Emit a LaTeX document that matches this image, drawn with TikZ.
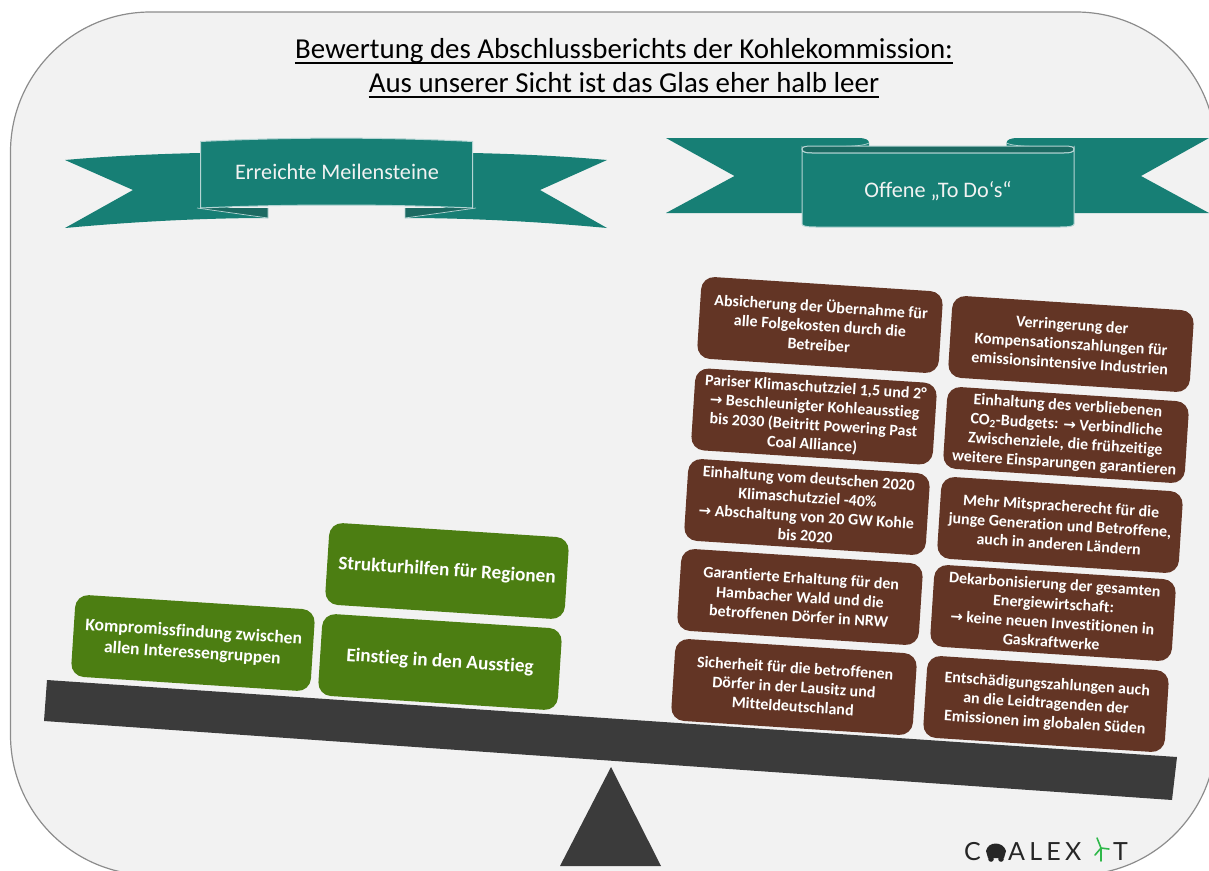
\documentclass[tikz,border=0pt]{standalone}
\usepackage{fontspec}
\setmainfont[Ligatures=NoCommon]{Carlito}
\newfontfamily\logofont[LetterSpace=17]{Lato}
\newfontfamily\arrowfont{DejaVu Sans}
\definecolor{bggray}{HTML}{F2F2F2}
\definecolor{edgegray}{HTML}{8C8C8C}
\definecolor{teal}{HTML}{177F75}
\definecolor{tealdark}{HTML}{1C6A62}
\definecolor{tealline}{HTML}{B5D5D4}
\definecolor{brownbox}{HTML}{633525}
\definecolor{greenbox}{HTML}{4C7E12}
\definecolor{beamgray}{HTML}{3B3B3B}
\definecolor{turbine}{HTML}{2FB84A}
\newcommand{\arr}{{\arrowfont\fontsize{15}{15}\selectfont →}}
\tikzset{
  x=1pt,y=-1pt,
  panel/.style={fill=bggray,draw=edgegray,line width=1.2pt},
  ribbon/.style={fill=teal},
  front/.style={fill=teal,draw=tealline,line width=1pt},
  bantext/.style={text=bggray,font=\fontsize{22.2}{22.2}\selectfont,inner sep=0pt},
  todo/.style={fill=brownbox,rounded corners=13pt,minimum width=242pt,minimum height=82pt,rotate=-3.7,
     text=white,align=center,inner sep=0pt,font=\fontsize{16}{19.2}\selectfont\bfseries},
  done/.style={fill=greenbox,rounded corners=13pt,minimum width=240pt,minimum height=82pt,rotate=-3.7,
     text=white,align=center,inner sep=0pt,font=\fontsize{19.2}{23}\selectfont\bfseries},
  titletext/.style={text=black,font=\fontsize{28.9}{34}\selectfont,inner sep=0pt,anchor=base},
  titlerule/.style={draw=black,line width=1.1pt},
  logotext/.style={text=black!85,font=\logofont\fontsize{25}{25}\selectfont,inner sep=0pt},
}
\begin{document}
\begin{tikzpicture}
\useasboundingbox (0,0) rectangle (1209,870);
\clip (0,0) rectangle (1209,870);
% background panel
\draw[panel,rounded corners=140pt] (10.5,12) rectangle (1216,875);
% title
\node[titletext] (title1) at (624,58.5) {Bewertung des Abschlussberichts der Kohlekommission:};
\node[titletext] (title2) at (624,92.5) {Aus unserer Sicht ist das Glas eher halb leer};
\draw[titlerule] ([yshift=-4.5pt]title1.base west) -- ([yshift=-4.5pt]title1.base east);
\draw[titlerule] ([yshift=-4.5pt]title2.base west) -- ([yshift=-4.5pt]title2.base east);
% left banner
\fill[ribbon] (65,160) .. controls (110,156) and (155,154) .. (200,153) -- (200,200) -- (268,218)
  .. controls (200,218) and (130,222) .. (65,228) -- (133,190) -- cycle;
\fill[ribbon] (607,160) .. controls (562,156) and (517,154) .. (473,153) -- (473,200) -- (405,218)
  .. controls (473,218) and (543,222) .. (607,228) -- (540,190) -- cycle;
\fill[tealdark] (197,208) -- (268,208) -- (268,218) -- cycle;
\fill[tealdark] (476,208) -- (405,208) -- (405,218) -- cycle;
\draw[tealline,line width=.7pt] (197,208) -- (268,218) -- (268,208);
\draw[tealline,line width=.7pt] (476,208) -- (405,218) -- (405,208);
\draw[front] (200.5,141.5) .. controls (290,137) and (383,137) .. (472.5,141.5)
  -- (472.5,208) .. controls (383,204) and (290,204) .. (200.5,208) -- cycle;
\node[bantext] (mile) at (337,172) {Erreichte Meilensteine};
% right banner
\fill[ribbon] (666,138) -- (858,138) .. controls (866,138) and (869,140) .. (869,143) -- (869,215) -- (810,213) -- (666,213) -- (734.5,176) -- cycle;
\fill[ribbon] (1209,138) -- (1018,138) .. controls (1010,138) and (1006.5,140) .. (1006.5,143) -- (1006.5,215) -- (1065,213) -- (1209,213) -- (1141,176) -- cycle;
\fill[tealdark] (802,146) rectangle (869,153);
\fill[tealdark] (1006.5,146) rectangle (1074,153);
\draw[tealline,line width=.7pt] (802,147) .. controls (825,146) and (860,148) .. (869,143);
\draw[tealline,line width=.7pt] (1074,147) .. controls (1050,146) and (1016,148) .. (1006.5,143);
\draw[front,fill=tealdark] (802,149) .. controls (802,147) and (805,146) .. (812,146) -- (1064,146)
  .. controls (1071,146) and (1074,147) .. (1074,149) .. controls (1074,152) and (1071,153) .. (1064,153)
  -- (812,153) .. controls (805,153) and (802,152) .. (802,149) -- cycle;
\draw[front] (802,149) .. controls (802,152) and (805,153) .. (812,153) -- (1064,153)
  .. controls (1071,153) and (1074,152) .. (1074,149) -- (1074,224)
  .. controls (1074,226) and (1070,227) .. (1060,227) -- (816,227) .. controls (806,227) and (802,226) .. (802,224) -- cycle;
\node[bantext] (open) at (938,191) {Offene „To Do‘s“};
% beam and fulcrum
\fill[beamgray] (47,680) -- (1177,757) -- (1172,800) -- (44,721) -- cycle;
\fill[beamgray] (611,767) -- (661,866) -- (560,866) -- cycle;
% green boxes
\node[done] (s1) at (447,571) {Strukturhilfen für Regionen};
\node[done] (s2) at (440,662) {Einstieg in den Ausstieg};
\node[done,font=\fontsize{17.6}{21}\selectfont\bfseries] (s3) at (193,643) {Kompromissfindung zwischen\\allen Interessengruppen};
% brown boxes
\node[todo] (t1) at (820,325) {Absicherung der Übernahme für\\alle Folgekosten durch die\\Betreiber};
\node[todo] (t2) at (814,416.5) {Pariser Klimaschutzziel 1,5 und 2°\\\arr{} Beschleunigter Kohleausstieg\\bis 2030 (Beitritt Powering Past\\Coal Alliance)};
\node[todo] (t3) at (807,507) {Einhaltung vom deutschen 2020\\Klimaschutzziel -40\%\\\arr{} Abschaltung von 20 GW Kohle\\bis 2020};
\node[todo] (t4) at (800,597) {Garantierte Erhaltung für den\\Hambacher Wald und die\\betroffenen Dörfer in NRW};
\node[todo] (t5) at (794,687) {Sicherheit für die betroffenen\\Dörfer in der Lausitz und\\Mitteldeutschland};
\node[todo] (t6) at (1071,344) {Verringerung der\\Kompensationszahlungen für\\emissionsintensive Industrien};
\node[todo] (t7) at (1066,435) {Einhaltung des verbliebenen\\CO\textsubscript{2}-Budgets: \arr{} Verbindliche\\Zwischenziele, die frühzeitige\\weitere Einsparungen garantieren};
\node[todo] (t8) at (1060,525) {Mehr Mitspracherecht für die\\junge Generation und Betroffene,\\auch in anderen Ländern};
\node[todo] (t9) at (1053,613) {Dekarbonisierung der gesamten\\Energiewirtschaft:\\\arr{} keine neuen Investitionen in\\Gaskraftwerke};
\node[todo] (t10) at (1046,704) {Entschädigungszahlungen auch\\an die Leidtragenden der\\Emissionen im globalen Süden};
% logo
\node[logotext,anchor=base west] (logoC) at (964,860) {C};
\node[logotext,anchor=base west] (logoM) at (1008,860) {ALEX};
\node[logotext,anchor=base west] (logoT) at (1113,860) {T};
\fill[black!85] (986,851) .. controls (988,841) and (1003,841) .. (1006,851) -- (1004,858) -- (988,858) -- cycle;
\fill[black!85] (991,859) circle (2.8pt) (1001,859) circle (2.8pt);
\draw[turbine,line width=1.6pt,line cap=round] (1101,861) -- (1101,848) (1101,848) -- (1097,838) (1101,848) -- (1109,849) (1101,848) -- (1095,855);
\end{tikzpicture}
\end{document}
